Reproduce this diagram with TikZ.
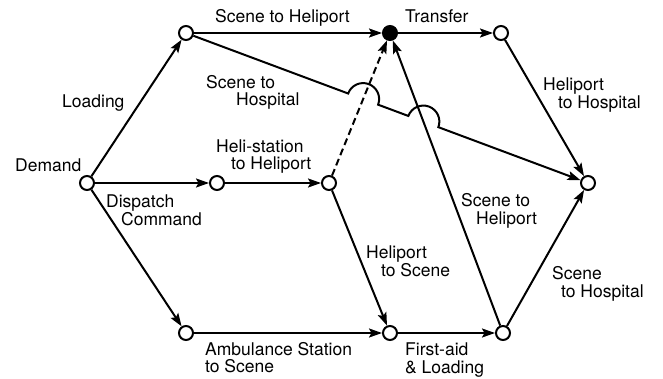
\documentclass[tikz,border=0pt]{standalone}
\usepackage{fontspec}
\setmainfont{TeX Gyre Heros}
\usetikzlibrary{arrows.meta,calc,intersections}
\begin{document}
\begin{tikzpicture}[x=1pt,y=1pt,
  vtx/.style={circle,draw,line width=2pt,minimum size=14pt,inner sep=0pt,fill=white},
  hub/.style={vtx,fill=black},
  conn/.style={line width=2pt,-{Stealth[length=13pt,width=9pt,inset=2.5pt]}},
  dconn/.style={conn,dash pattern=on 7pt off 4pt},
  lbl/.style={anchor=base west,inner sep=0pt,align=left,font=\fontsize{17.5}{17.5}\selectfont},
]
\useasboundingbox (0,0) rectangle (663,378);
% vertices
\node[vtx] (D)  at (87,195) {};
\node[vtx] (A)  at (186,345) {};
\node[vtx] (M1) at (217,195) {};
\node[vtx] (M2) at (329,195) {};
\node[vtx] (B)  at (186,45) {};
\node[hub] (F)  at (390,345) {};
\node[vtx] (T)  at (501,345) {};
\node[vtx] (R)  at (588,195) {};
\node[vtx] (BM) at (390,45) {};
\node[vtx] (BR) at (503,45) {};
% connectors
\draw[conn] (D) -- (A);
\draw[conn] (D) -- (M1);
\draw[conn] (D) -- (B);
\draw[conn] (M1) -- (M2);
\draw[conn] (A) -- (F);
\draw[conn] (F) -- (T);
\draw[dconn] (M2) -- (F);
\draw[conn] (M2) -- (BM);
\draw[conn] (B) -- (BM);
\draw[conn] (BM) -- (BR);
\draw[conn] (BR) -- (F);
\draw[conn] (BR) -- (R);
\draw[conn] (T) -- (R);
% line with hops
\path[name path=ar] (A) -- (R);
\path[name path=mf] (M2) -- (F);
\path[name path=bf] (BR) -- (F);
\path[name intersections={of=ar and mf,by=x1}];
\path[name intersections={of=ar and bf,by=x2}];
\draw[conn] (A) -- ($(x1)!16pt!(A)$) arc[start angle=159.54,end angle=-20.46,radius=16pt]
  -- ($(x2)!16pt!(A)$) arc[start angle=159.54,end angle=-20.46,radius=16pt] -- (R);
% labels (base = baseline of last line)
\node[lbl] (lDemand) at (15,206.3) {Demand};
\node[lbl] (lLoad) at (62,270.3) {Loading};
\node[lbl] (lSH) at (215,355.3) {Scene to Heliport};
\node[lbl] (lTr) at (405,355.3) {Transfer};
\node[lbl] (lSHos) at (206,272) {Scene to\\\hspace*{30pt}Hospital};
\node[lbl] (lHeli) at (216,208) {Heli-station\\\hspace*{15pt}to Heliport};
\node[lbl] (lDisp) at (106,153) {Dispatch\\\hspace*{15pt}Command};
\node[lbl] (lAmb) at (205,5.3) {Ambulance Station\\to Scene};
\node[lbl] (lHH) at (543,269.7) {Heliport\\\hspace*{15pt}to Hospital};
\node[lbl] (lSHe) at (461,154) {Scene to\\\hspace*{15pt}Heliport};
\node[lbl] (lHS) at (366,102) {Heliport\\\hspace*{15pt}to Scene};
\node[lbl] (lSHo2) at (552,80.7) {Scene\\\hspace*{9pt}to Hospital};
\node[lbl] (lFA) at (405,4.7) {First-aid\\\& Loading};
\end{tikzpicture}
\end{document}
